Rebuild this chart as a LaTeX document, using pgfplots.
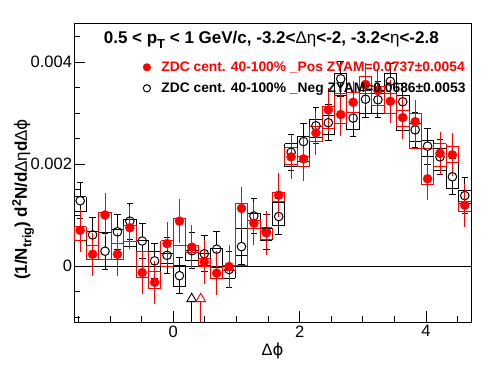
\documentclass[border=0pt]{standalone}
\usepackage{pgfplots}
\pgfplotsset{compat=1.18}
\usepackage{pgfplotstable}
\usepackage{fontspec}
\setmainfont{Liberation Sans}
\newfontfamily\dv{DejaVu Sans}

\pgfplotstableread{
x y lo hi
-1.47262 0.00070 0.00051 0.00077
-1.27627 0.00023 0.00013 0.00041
-1.07992 0.00100 0.00013 0.00105
-0.88357 0.00023 0.00013 0.00045
-0.68722 0.00075 0.00048 0.00080
-0.49087 -0.00013 -0.00022 0.00028
-0.29452 -0.00032 -0.00044 -0.00011
-0.09817 0.00044 0.00000 0.00050
0.09817 0.00088 0.00041 0.00093
0.29452 0.00037 0.00026 0.00041
0.49087 0.00008 -0.00001 0.00015
0.68722 -0.00014 -0.00024 -0.00003
0.88357 -0.00001 -0.00009 0.00002
1.07992 0.00113 0.00002 0.00122
1.27627 0.00084 0.00074 0.00090
1.47262 0.00065 0.00052 0.00075
1.66897 0.00139 0.00126 0.00144
1.86532 0.00214 0.00200 0.00232
2.06167 0.00210 0.00195 0.00214
2.25802 0.00261 0.00244 0.00274
2.45437 0.00306 0.00270 0.00312
2.65072 0.00297 0.00280 0.00338
2.84707 0.00321 0.00302 0.00340
3.04342 0.00356 0.00338 0.00372
3.23977 0.00344 0.00314 0.00352
3.43612 0.00323 0.00300 0.00338
3.63247 0.00291 0.00273 0.00305
3.82882 0.00283 0.00231 0.00300
4.02517 0.00171 0.00159 0.00230
4.22152 0.00221 0.00195 0.00240
4.41787 0.00218 0.00204 0.00235
4.61422 0.00119 0.00106 0.00126
}\pos

\pgfplotstableread{
x y lo hi
-1.47262 0.00128 0.00106 0.00136
-1.27627 0.00061 0.00041 0.00067
-1.07992 0.00029 0.00012 0.00065
-0.88357 0.00067 0.00012 0.00071
-0.68722 0.00088 0.00038 0.00092
-0.49087 0.00049 0.00028 0.00051
-0.29452 0.00010 -0.00011 0.00029
-0.09817 0.00021 0.00005 0.00025
0.09817 -0.00019 -0.00040 0.00002
0.29452 0.00030 0.00010 0.00031
0.49087 0.00024 0.00002 0.00024
0.68722 0.00033 -0.00003 0.00035
0.88357 -0.00007 -0.00024 -0.00001
1.07992 0.00038 0.00021 0.00074
1.27627 0.00098 0.00074 0.00104
1.47262 0.00067 0.00051 0.00074
1.66897 0.00097 0.00080 0.00124
1.86532 0.00223 0.00195 0.00240
2.06167 0.00244 0.00205 0.00255
2.25802 0.00275 0.00253 0.00288
2.45437 0.00281 0.00257 0.00295
2.65072 0.00367 0.00335 0.00378
2.84707 0.00290 0.00267 0.00302
3.04342 0.00327 0.00300 0.00345
3.23977 0.00326 0.00300 0.00338
3.43612 0.00362 0.00338 0.00378
3.63247 0.00322 0.00265 0.00335
3.82882 0.00267 0.00244 0.00280
4.02517 0.00235 0.00214 0.00247
4.22152 0.00214 0.00188 0.00231
4.41787 0.00175 0.00152 0.00204
4.61422 0.00138 0.00123 0.00149
}\neg

\begin{document}
\begin{tikzpicture}
\useasboundingbox (-74pt,-52pt) rectangle (422pt,322pt);
\begin{axis}[
  scale only axis, width=397pt, height=299pt,
  xmin=-1.5708, xmax=4.7124, ymin=-0.001098, ymax=0.004765,
  axis line style={line width=0.9pt},
  xtick={-2,0,2,4,6}, ytick={-0.002,0,0.002,0.004,0.006},
  minor x tick num=3, minor y tick num=3,
  tick pos=left, tick align=inside,
  major tick length=11pt, minor tick length=6pt,
  every tick/.style={line width=0.9pt, black},
  every minor tick/.style={line width=0.9pt, black},
  scaled y ticks=false,
  /pgf/number format/assume math mode=true,
  yticklabel={\pgfmathprintnumber[fixed,precision=4]{\tick}},
  ticklabel style={font=\fontsize{16.5}{18}\selectfont},
  yticklabel style={xshift=1.5pt},
  xlabel={\fontsize{16.5}{16.5}\selectfont Δ{\dv\symbol{"03D5}}},
  every axis x label/.style={at={(axis description cs:0.5,-0.097)}, anchor=center},
  ylabel={\bfseries\fontsize{17}{17}\selectfont (1/N\raisebox{-4.5pt}{\fontsize{12.5}{12.5}\selectfont trig}) d\raisebox{6pt}{\fontsize{12.5}{12.5}\selectfont 2}N/d{\mdseries Δη}d{\mdseries Δ\dv\symbol{"03D5}}},
  every axis y label/.style={at={(axis description cs:-0.128,0.41)}, rotate=90, anchor=center},
  legend style={at={(axis description cs:0.1708,0.8706)}, anchor=north west, draw=none, fill=none,
    inner sep=0pt, outer sep=0pt, row sep=8pt,
    font=\bfseries\fontsize{13.8}{15}\selectfont,
    nodes={inner sep=0pt, text height=10pt, text depth=3pt},
    cells={anchor=base west}},
  legend image code/.code={\path (-4.9pt,0pt) (14.3pt,0pt);
    \draw[mark repeat=2,mark phase=2] plot coordinates {(-5pt,4.4pt)(0pt,4.4pt)(5pt,4.4pt)};},
  boxk/.style={draw=none, mark=none, forget plot, error bars/error bar style={draw=black, line width=0.9pt}},
  boxr/.style={draw=none, mark=none, forget plot, error bars/error bar style={draw=red, line width=0.9pt}},
]
\addlegendimage{only marks, mark=*, red, mark size=3.8pt}
\addlegendentry{\textcolor{red}{ZDC cent. 40-100\% \_Pos ZYAM=0.0737±0.0054}}
\addlegendimage{only marks, mark=o, black, mark size=3.6pt, mark options={line width=1pt}}
\addlegendentry{ZDC cent. 40-100\% \_Neg ZYAM=0.0686±0.0053}

% zero line
\addplot[black, line width=0.8pt, forget plot] coordinates {(-1.5708,0) (4.7124,0)};

% black systematic boxes
\addplot[boxk, error bars/.cd, x dir=both, x fixed=0.098175, error mark=none] table[x=x, y=hi] {\neg};
\addplot[boxk, error bars/.cd, x dir=both, x fixed=0.098175, error mark=none] table[x=x, y=lo] {\neg};
\addplot[boxk, error bars/.cd, y dir=plus, y explicit, error mark=none] table[x expr=\thisrow{x}-0.098175, y=lo, y error expr=\thisrow{hi}-\thisrow{lo}] {\neg};
\addplot[boxk, error bars/.cd, y dir=plus, y explicit, error mark=none] table[x expr=\thisrow{x}+0.098175, y=lo, y error expr=\thisrow{hi}-\thisrow{lo}] {\neg};

% red systematic boxes
\addplot[boxr, error bars/.cd, x dir=both, x fixed=0.098175, error mark=none] table[x=x, y=hi] {\pos};
\addplot[boxr, error bars/.cd, x dir=both, x fixed=0.098175, error mark=none] table[x=x, y=lo] {\pos};
\addplot[boxr, error bars/.cd, y dir=plus, y explicit, error mark=none] table[x expr=\thisrow{x}-0.098175, y=lo, y error expr=\thisrow{hi}-\thisrow{lo}] {\pos};
\addplot[boxr, error bars/.cd, y dir=plus, y explicit, error mark=none] table[x expr=\thisrow{x}+0.098175, y=lo, y error expr=\thisrow{hi}-\thisrow{lo}] {\pos};

% black statistical errors (outside the open marker), caps and markers
\addplot[boxk, error bars/.cd, y dir=plus, y fixed=0.000262, error mark=none] table[x=x, y expr=\thisrow{y}+0.000088] {\neg};
\addplot[boxk, error bars/.cd, y dir=minus, y fixed=0.000262, error mark=none] table[x=x, y expr=\thisrow{y}-0.000088] {\neg};
\addplot[boxk, error bars/.cd, x dir=both, x fixed=0.052, error mark=none] table[x=x, y expr=\thisrow{y}+0.00035] {\neg};
\addplot[boxk, error bars/.cd, x dir=both, x fixed=0.052, error mark=none] table[x=x, y expr=\thisrow{y}-0.00035] {\neg};
\addplot[only marks, mark=o, black, mark size=4.3pt, mark options={line width=1pt}, forget plot] table[x=x, y=y] {\neg};

% red statistical errors and markers
\addplot[only marks, mark=*, red, mark size=4.5pt, forget plot, error bars/.cd, y dir=both, y fixed=0.00036, error mark=-, error mark options={mark size=3.3pt, line width=0.9pt, red}, error bar style={line width=0.9pt, red}] table[x=x, y=y] {\pos};

% ZYAM markers
\addplot[black, line width=0.9pt, forget plot] coordinates {(0.292,-0.0007) (0.292,-0.0011)};
\addplot[red, line width=0.9pt, forget plot] coordinates {(0.435,-0.0007) (0.435,-0.0011)};
\addplot[only marks, mark=triangle, mark size=5.6pt, black, mark options={line width=0.9pt}, forget plot] coordinates {(0.292,-0.000645)};
\addplot[only marks, mark=triangle, mark size=5.6pt, red, mark options={line width=0.9pt}, forget plot] coordinates {(0.435,-0.000645)};

\node[anchor=base, font=\bfseries\fontsize{17}{17}\selectfont] at (axis description cs:0.497,0.933) {0.5 < p\raisebox{-5pt}{\fontsize{13}{13}\selectfont T} < 1 GeV/c, -3.2<{\mdseries Δη}<-2, -3.2<{\mdseries η}<-2.8};
\end{axis}
\end{tikzpicture}
\end{document}
